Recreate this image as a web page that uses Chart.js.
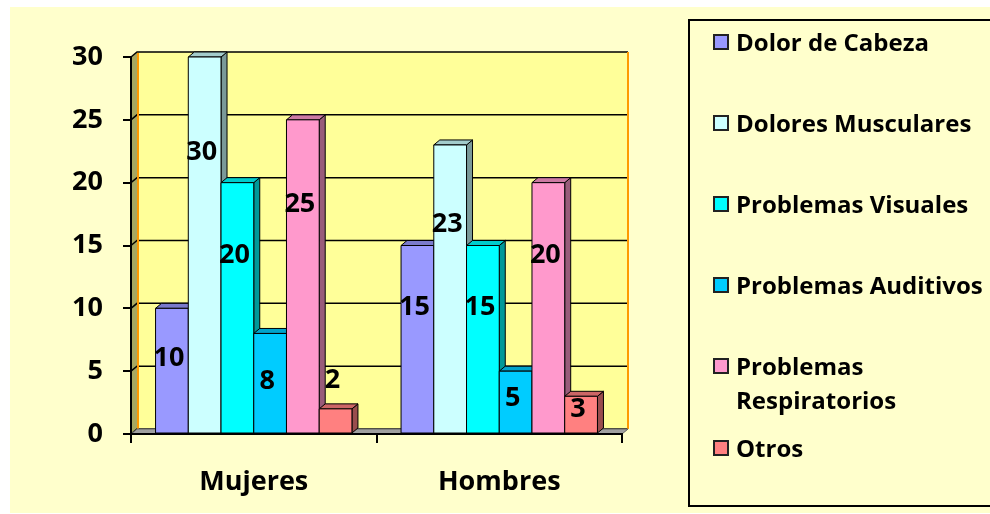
<!DOCTYPE html>
<html>
<head>
<meta charset="utf-8">
<script src="https://cdn.jsdelivr.net/npm/chart.js@4.4.1/dist/chart.umd.min.js"></script>
<style>
html,body{margin:0;padding:0;background:#fff;overflow:hidden;}
#wrap{position:relative;width:990px;height:514px;}
#legend{position:absolute;left:688px;top:19px;width:320px;height:488px;border:2.5px solid #000;box-sizing:border-box;padding-top:4px;}
.item{display:flex;align-items:flex-start;font:bold 24px "Open Sans",sans-serif;line-height:34px;color:#000;margin-bottom:47px;}
.item span{display:block;width:262px;}
.sq{width:12px;height:12px;border:2px solid #222;margin:9px 7px 0 23px;flex:none;}
</style>
</head>
<body>
<div id="wrap">
<canvas id="grafico" width="990" height="514"></canvas>
<div id="legend"></div>
</div>
<script>
const categorias = ['Mujeres', 'Hombres'];
const nombres = ['Dolor de Cabeza', 'Dolores Musculares', 'Problemas Visuales', 'Problemas Auditivos', 'Problemas Respiratorios', 'Otros'];
const dolorCabeza = [10, 15];
const doloresMusculares = [30, 23];
const problemasVisuales = [20, 15];
const problemasAuditivos = [8, 5];
const problemasRespiratorios = [25, 20];
const otros = [2, 3];
const ejeY = [0, 5, 10, 15, 20, 25, 30];

const frente = ['#9999FF', '#CCFFFF', '#00FFFF', '#00CCFF', '#FF99CC', '#FF8080'];
const lado = ['#5C5C99', '#7A9999', '#009999', '#007A99', '#995C7A', '#994D4D'];
const arriba = ['#7A7ACC', '#A3CCCC', '#00CCCC', '#00A3CC', '#CC7AA3', '#CC6666'];

const series = [dolorCabeza, doloresMusculares, problemasVisuales, problemasAuditivos, problemasRespiratorios, otros];
const fuente = {family: '"Open Sans", sans-serif', size: 27, weight: 'bold'};
const DX = 6, DY = 5;

function poly(ctx, pts, fill, stroke) {
  ctx.beginPath();
  ctx.moveTo(pts[0][0], pts[0][1]);
  for (let k = 1; k < pts.length; k++) ctx.lineTo(pts[k][0], pts[k][1]);
  ctx.closePath();
  ctx.fillStyle = fill;
  ctx.fill();
  if (stroke) { ctx.strokeStyle = stroke; ctx.stroke(); }
}

// walls, floor and gridlines of the fake 3d box
const falso3d = {
  id: 'falso3d',
  beforeDraw(chart) {
    const {ctx, chartArea: a, scales: {y}} = chart;
    ctx.save();
    ctx.fillStyle = '#fff';
    ctx.fillRect(0, 0, chart.width, chart.height);
    ctx.fillStyle = '#FFFFCC';
    ctx.fillRect(10, 7, chart.width - 10, chart.height - 8);
    // back wall
    ctx.fillStyle = '#FFFF99';
    ctx.fillRect(a.left + DX, a.top - DY, a.right - a.left, a.bottom - a.top);
    // left wall
    ctx.lineWidth = 1;
    poly(ctx, [[a.left, a.top], [a.left + DX, a.top - DY], [a.left + DX, a.bottom - DY], [a.left, a.bottom]], '#A8A860');
    // gridlines
    ctx.strokeStyle = '#000';
    ctx.lineWidth = 1.5;
    ejeY.forEach(v => {
      const py = y.getPixelForValue(v);
      ctx.beginPath();
      ctx.moveTo(a.left, py);
      ctx.lineTo(a.left + DX, py - DY);
      ctx.lineTo(a.right + DX, py - DY);
      ctx.stroke();
    });
    // orange edges of the back wall
    ctx.strokeStyle = '#FF9900';
    ctx.lineWidth = 2;
    ctx.beginPath();
    ctx.moveTo(a.left + DX + 1, a.top - DY + 1);
    ctx.lineTo(a.left + DX + 1, a.bottom - DY);
    ctx.moveTo(a.right + DX, a.top - DY);
    ctx.lineTo(a.right + DX, a.bottom - DY);
    ctx.stroke();
    // floor
    ctx.lineWidth = 1;
    poly(ctx, [[a.left, a.bottom], [a.left + DX, a.bottom - DY], [a.right + DX, a.bottom - DY], [a.right, a.bottom]], '#A0A0A0', '#606060');
    ctx.restore();
  },
  beforeDatasetsDraw(chart) {
    const ctx = chart.ctx;
    ctx.save();
    ctx.lineWidth = 1;
    ctx.lineJoin = 'round';
    for (let j = 0; j < categorias.length; j++) {
      for (let i = 0; i < series.length; i++) {
        const el = chart.getDatasetMeta(i).data[j];
        const x0 = el.x - el.width / 2, x1 = el.x + el.width / 2;
        const t = el.y, b = el.base;
        poly(ctx, [[x1, t], [x1 + DX, t - DY], [x1 + DX, b - DY], [x1, b]], lado[i], '#000');
        poly(ctx, [[x0, t], [x0 + DX, t - DY], [x1 + DX, t - DY], [x1, t]], arriba[i], '#000');
        poly(ctx, [[x0, t], [x1, t], [x1, b], [x0, b]], frente[i], '#000');
      }
    }
    ctx.restore();
    return false;
  },
  afterDraw(chart) {
    const {ctx, scales: {y}} = chart;
    ctx.save();
    ctx.font = 'bold 27px "Open Sans", sans-serif';
    ctx.fillStyle = '#000';
    ctx.textAlign = 'center';
    ctx.textBaseline = 'middle';
    series.forEach((s, i) => {
      chart.getDatasetMeta(i).data.forEach((el, j) => {
        const v = s[j];
        const pos = v < 3 ? v + 2.3 : (v >= 10 ? v * 0.82 - 2.2 : v * 0.45 + 0.6);
        ctx.fillText(String(v), el.x - 3, y.getPixelForValue(pos));
      });
    });
    ctx.restore();
  }
};

const grafico = new Chart(document.getElementById('grafico').getContext('2d'), {
  type: 'bar',
  data: {
    labels: categorias,
    datasets: series.map((s, i) => ({
      label: nombres[i],
      data: s,
      backgroundColor: frente[i],
      borderColor: '#000',
      borderWidth: 1,
      categoryPercentage: 0.8,
      barPercentage: 1.0
    }))
  },
  options: {
    responsive: false,
    animation: false,
    layout: {padding: {top: 57, right: 368, left: 0, bottom: 0}},
    plugins: {legend: {display: false}, tooltip: {enabled: false}},
    scales: {
      x: {
        grid: {drawOnChartArea: false, drawTicks: true, tickLength: 9, color: '#000', lineWidth: 2, offset: true},
        border: {display: true, color: '#000', width: 2},
        ticks: {font: fuente, color: '#000', padding: 23},
        afterFit(s) { s.height = 80; }
      },
      y: {
        min: 0,
        max: 30,
        ticks: {stepSize: 5, font: fuente, color: '#000', padding: 20},
        grid: {drawOnChartArea: false, drawTicks: true, tickLength: 8, color: '#000', lineWidth: 2},
        border: {display: true, color: '#000', width: 2},
        afterFit(s) { s.width = 131; }
      }
    }
  },
  plugins: [falso3d]
});

// legend built from the chart's own datasets
const leyenda = document.getElementById('legend');
grafico.data.datasets.forEach(ds => {
  const it = document.createElement('div');
  it.className = 'item';
  const sq = document.createElement('div');
  sq.className = 'sq';
  sq.style.background = ds.backgroundColor;
  const tx = document.createElement('span');
  tx.textContent = ds.label;
  it.appendChild(sq);
  it.appendChild(tx);
  leyenda.appendChild(it);
});
leyenda.children[4].style.marginBottom = '14px';
</script>
</body>
</html>
